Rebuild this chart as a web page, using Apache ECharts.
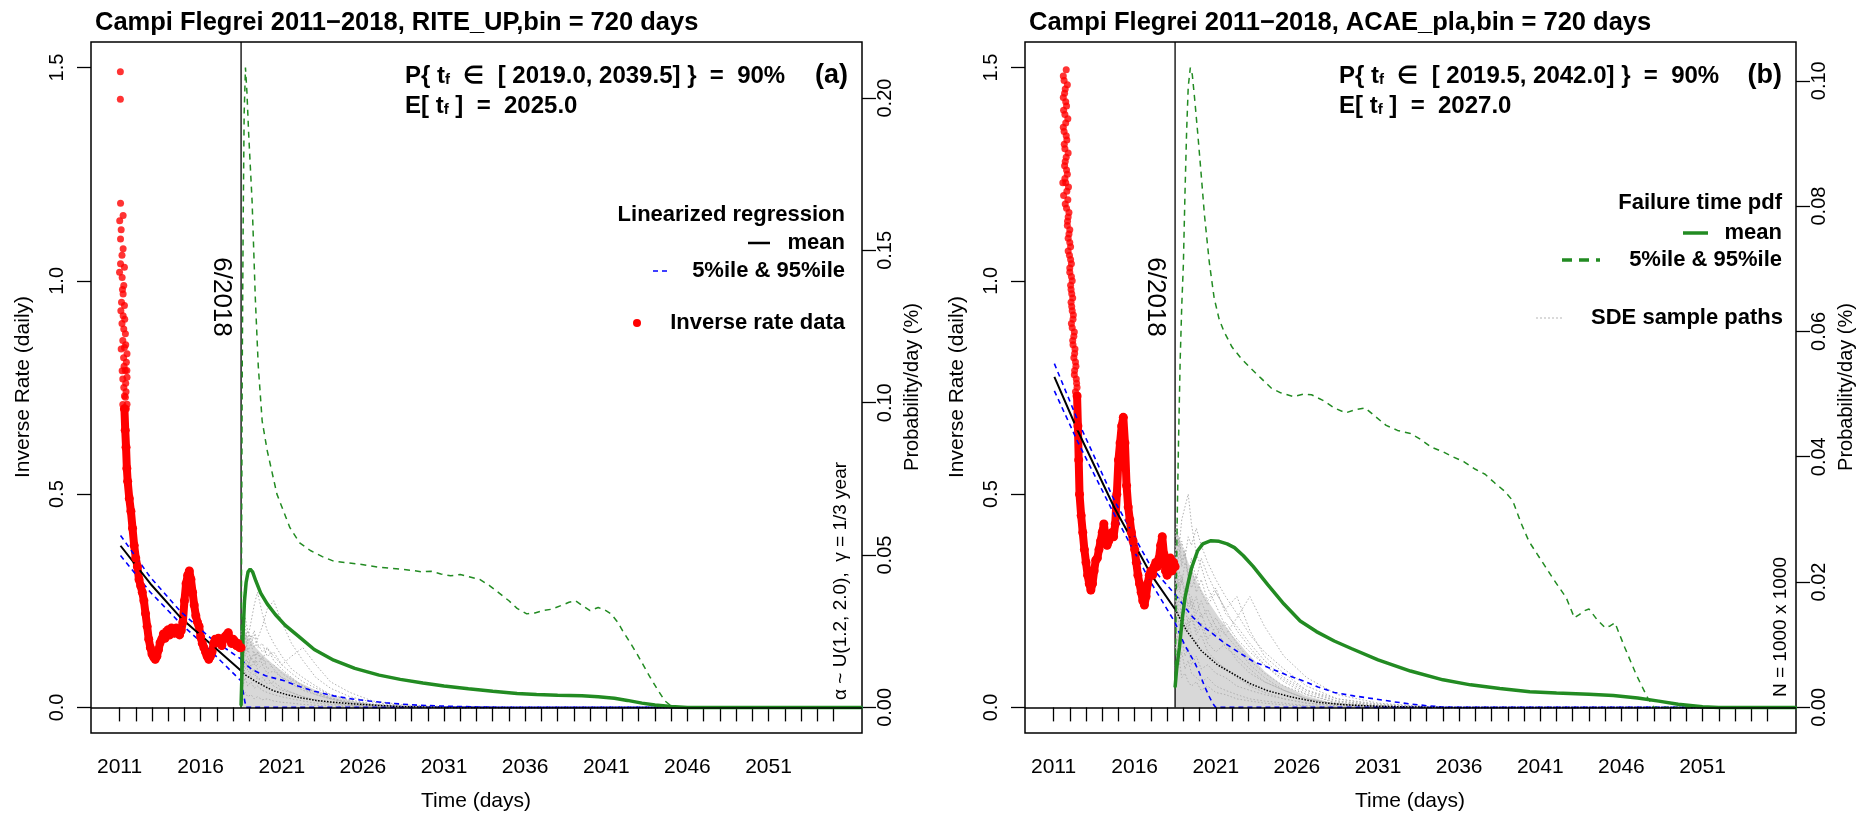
<!DOCTYPE html>
<html><head><meta charset="utf-8">
<script src="https://cdn.jsdelivr.net/npm/echarts@6/dist/echarts.min.js"></script>
<style>html,body{margin:0;padding:0;background:#fff}#c{width:1868px;height:817px}</style>
</head><body><div id="c"></div>
<script>
// ---------------- DATA ----------------
const xTickYears = [2011,2012,2013,2014,2015,2016,2017,2018,2019,2020,2021,2022,2023,2024,2025,2026,2027,2028,2029,2030,2031,2032,2033,2034,2035,2036,2037,2038,2039,2040,2041,2042,2043,2044,2045,2046,2047,2048,2049,2050,2051,2052,2053,2054,2055];
const xLabelYears = [2011,2016,2021,2026,2031,2036,2041,2046,2051];
const leftTicks = [0,0.5,1.0,1.5];
const rightTicksA = [0,0.05,0.10,0.15,0.20];
const rightTicksB = [0,0.02,0.04,0.06,0.08,0.10];
const xLim = [2011, 2055];
const yLim = [0, 1.5];
const pdfMaxA = 0.210;
const pdfMaxB = 0.1021;
const changeYear = 2018.49;

// Panel (a) RITE_UP
const redDotsA = [[2011.05,1.49],[2011.05,1.426],[2011.06,1.182],[2011.22,1.153],[2011.01,1.141],[2011.1,1.12],[2011.06,1.098],[2011.22,1.075],[2011.15,1.06],[2011.06,1.04],[2011.3,1.032],[2011.0,1.02],[2011.16,1.008],[2011.26,0.989],[2011.18,0.98],[2011.22,0.969],[2011.3,0.942],[2011.12,0.95],[2011.08,0.93],[2011.22,0.918],[2011.32,0.91],[2011.15,0.90],[2011.26,0.887],[2011.2,0.86],[2011.36,0.876],[2011.38,0.85],[2011.1,0.84],[2011.3,0.844],[2011.46,0.829],[2011.25,0.82],[2011.42,0.809],[2011.28,0.80],[2011.16,0.789],[2011.45,0.79],[2011.46,0.774],[2011.2,0.77],[2011.38,0.76],[2011.35,0.79],[2011.26,0.75],[2011.4,0.74],[2011.3,0.73],[2011.36,0.727],[2011.46,0.711],[2011.2,0.71],[2011.42,0.70],[2011.3,0.688]];
const redBandA = [[2011.3,0.70],[2011.35,0.65],[2011.4,0.61],[2011.45,0.56],[2011.5,0.53],[2011.6,0.49],[2011.7,0.46],[2011.8,0.42],[2011.9,0.38],[2012.0,0.35],[2012.1,0.33],[2012.2,0.30],[2012.3,0.285],[2012.4,0.27],[2012.5,0.25],[2012.6,0.22],[2012.7,0.19],[2012.8,0.16],[2012.9,0.14],[2013.0,0.125],[2013.1,0.118],[2013.2,0.113],[2013.3,0.12],[2013.4,0.135],[2013.5,0.152],[2013.6,0.16],[2013.7,0.172],[2013.8,0.162],[2013.9,0.178],[2014.0,0.182],[2014.1,0.17],[2014.2,0.186],[2014.3,0.18],[2014.4,0.174],[2014.5,0.186],[2014.6,0.175],[2014.7,0.17],[2014.8,0.18],[2014.9,0.20],[2015.0,0.25],[2015.1,0.29],[2015.2,0.31],[2015.3,0.32],[2015.4,0.30],[2015.5,0.27],[2015.6,0.24],[2015.7,0.215],[2015.8,0.20],[2015.9,0.19],[2016.0,0.165],[2016.1,0.15],[2016.2,0.14],[2016.3,0.13],[2016.4,0.12],[2016.5,0.113],[2016.6,0.12],[2016.7,0.13],[2016.8,0.15],[2016.9,0.16],[2017.0,0.155],[2017.1,0.162],[2017.2,0.15],[2017.3,0.145],[2017.4,0.16],[2017.5,0.166],[2017.6,0.17],[2017.7,0.175],[2017.8,0.16],[2017.9,0.15],[2018.0,0.16],[2018.1,0.155],[2018.2,0.145],[2018.3,0.15],[2018.4,0.14],[2018.49,0.14]];
const regPreMeanA = [[2011.06,0.379],[2012.9,0.29],[2014.75,0.211],[2016.6,0.149],[2018.49,0.086]];
const regPreUpA = [[2011.06,0.403],[2012.9,0.305],[2014.75,0.225],[2016.6,0.163],[2018.49,0.113]];
const regPreLoA = [[2011.06,0.356],[2012.9,0.27],[2014.75,0.197],[2016.6,0.133],[2018.49,0.062]];
const regPostMeanA = [[2018.49,0.086],[2018.8,0.075],[2019.3,0.063],[2020.0,0.048],[2020.5,0.039],[2021.3,0.03],[2022.2,0.022],[2023.2,0.016],[2024.2,0.012],[2025.5,0.008],[2026.8,0.005],[2028.3,0.002],[2030,0.0005],[2031,0],[2056.8,0]];
const regPostUpA = [[2018.49,0.113],[2018.8,0.1],[2019.2,0.088],[2020.0,0.074],[2021.1,0.063],[2022.0,0.05],[2023.0,0.038],[2024.2,0.027],[2025.3,0.02],[2026.4,0.015],[2027.4,0.011],[2028.3,0.008],[2029.5,0.005],[2031,0.003],[2033,0.0012],[2035,0],[2056.8,0]];
const regPostLoA = [[2018.49,0.062],[2018.58,0.045],[2018.65,0.03],[2018.73,0.012],[2018.8,0],[2056.8,0]];
const pdfMeanA = [[2018.49,0.0006],[2018.55,0.012],[2018.62,0.025],[2018.7,0.035],[2018.8,0.041],[2018.92,0.0445],[2019.05,0.0454],[2019.2,0.0445],[2019.4,0.0415],[2019.7,0.0375],[2020.1,0.034],[2020.6,0.0305],[2021.2,0.027],[2022.0,0.0235],[2023.0,0.019],[2024.2,0.0155],[2025.5,0.0128],[2027.0,0.0106],[2028.3,0.0092],[2029.7,0.008],[2031.0,0.007],[2032.5,0.0061],[2034.0,0.0053],[2035.5,0.0046],[2036.7,0.0042],[2038.0,0.004],[2039.5,0.0038],[2040.5,0.0035],[2041.5,0.003],[2042.3,0.0023],[2043.2,0.0014],[2044.0,0.0008],[2045.0,0.0003],[2046.0,0],[2056.8,0]];
const pdfUpperA = [[2018.49,0],[2018.52,0.05],[2018.56,0.11],[2018.62,0.16],[2018.68,0.195],[2018.76,0.21],[2018.85,0.202],[2018.96,0.188],[2019.17,0.166],[2019.37,0.134],[2019.55,0.112],[2019.79,0.094],[2020.1,0.0843],[2020.7,0.070],[2021.5,0.059],[2022.1,0.054],[2022.76,0.0515],[2023.5,0.0495],[2024.2,0.048],[2025.0,0.0475],[2025.8,0.047],[2027.0,0.046],[2028.3,0.0454],[2029.0,0.045],[2029.6,0.0445],[2030.2,0.0447],[2030.8,0.0438],[2031.4,0.0432],[2032.0,0.0436],[2032.6,0.0428],[2033.2,0.042],[2033.8,0.040],[2034.4,0.0375],[2035.0,0.035],[2035.5,0.0325],[2036.1,0.0307],[2036.6,0.031],[2037.1,0.0318],[2037.6,0.0322],[2038.2,0.0334],[2038.7,0.0345],[2039.1,0.035],[2039.5,0.0335],[2040.0,0.0318],[2040.5,0.0328],[2040.9,0.032],[2041.3,0.0307],[2041.7,0.028],[2042.0,0.0252],[2042.5,0.021],[2042.9,0.0175],[2043.3,0.0137],[2043.7,0.0099],[2044.2,0.0055],[2044.6,0.0022],[2045.1,0],[2056.8,0]];
const sdeCoreA = [[2018.49,0.17],[2018.7,0.18],[2019.0,0.16],[2019.4,0.14],[2019.9,0.12],[2020.5,0.10],[2021.2,0.08],[2022.0,0.06],[2023.0,0.042],[2024.0,0.028],[2025.5,0.014],[2027.0,0.006],[2029.0,0.002],[2031.0,0]];
const sdeYears = [2018.49,2018.6,2018.75,2018.9,2019.1,2019.3,2019.5,2019.8,2020.1,2020.5,2021.0,2021.6,2022.3,2023.1,2024.0,2025.2,2026.6,2028.5,2031.0,2034.0];
const sdePathsA = [
 [0.14,0.17,0.13,0.16,0.20,0.24,0.27,0.22,0.18,0.15,0.12,0.09,0.07,0.05,0.03,0.018,0.008,0.003,0.001,0],
 [0.10,0.08,0.11,0.09,0.12,0.10,0.13,0.11,0.14,0.12,0.10,0.08,0.06,0.045,0.03,0.015,0.007,0.002,0,0],
 [0.16,0.14,0.17,0.13,0.15,0.12,0.13,0.10,0.11,0.09,0.07,0.06,0.045,0.03,0.02,0.01,0.005,0.002,0,0],
 [0.06,0.05,0.07,0.05,0.06,0.045,0.05,0.04,0.035,0.03,0.025,0.02,0.015,0.01,0.007,0.004,0.002,0,0,0],
 [0.12,0.15,0.12,0.14,0.11,0.13,0.10,0.12,0.09,0.10,0.08,0.065,0.05,0.035,0.022,0.012,0.005,0.002,0,0],
 [0.18,0.16,0.19,0.15,0.17,0.14,0.16,0.19,0.23,0.25,0.20,0.15,0.11,0.07,0.045,0.025,0.012,0.004,0.001,0],
 [0.08,0.10,0.08,0.09,0.07,0.08,0.065,0.07,0.055,0.06,0.045,0.035,0.025,0.018,0.012,0.006,0.003,0.001,0,0],
 [0.13,0.11,0.09,0.11,0.08,0.09,0.07,0.06,0.07,0.05,0.04,0.035,0.025,0.015,0.01,0.005,0.002,0,0,0],
 [0.04,0.03,0.035,0.025,0.03,0.02,0.025,0.018,0.02,0.015,0.012,0.01,0.007,0.005,0.003,0.002,0.001,0,0,0],
 [0.15,0.13,0.16,0.18,0.15,0.17,0.14,0.15,0.12,0.13,0.10,0.12,0.14,0.10,0.06,0.035,0.015,0.006,0.002,0],
 [0.11,0.12,0.10,0.12,0.095,0.11,0.09,0.10,0.08,0.085,0.07,0.055,0.04,0.03,0.02,0.01,0.005,0.002,0,0],
 [0.17,0.19,0.21,0.18,0.16,0.18,0.15,0.13,0.14,0.11,0.09,0.07,0.05,0.035,0.022,0.012,0.006,0.002,0.001,0]
];

// Panel (b) ACAE_pla
const redDotsB = [[2011.78,1.495],[2011.6,1.48],[2011.65,1.47],[2011.85,1.46],[2011.72,1.45],[2011.68,1.44],[2011.6,1.43],[2011.75,1.42],[2011.8,1.41],[2011.62,1.40],[2011.7,1.39],[2011.88,1.38],[2011.75,1.37],[2011.6,1.36],[2011.65,1.35],[2011.78,1.34],[2011.82,1.33],[2011.66,1.32],[2011.7,1.31],[2011.9,1.30],[2011.78,1.29],[2011.72,1.28],[2011.68,1.27],[2011.8,1.26],[2011.85,1.25],[2011.7,1.24],[2011.57,1.23],[2011.75,1.23],[2011.92,1.22],[2011.82,1.21],[2011.62,1.20],[2011.88,1.19],[2011.72,1.18],[2011.8,1.17],[2011.95,1.16],[2011.9,1.15],[2011.86,1.14],[2011.85,1.13],[2012.0,1.12],[2011.95,1.11],[2011.9,1.10],[2012.0,1.09],[2012.05,1.08],[2011.9,1.07],[2011.98,1.06],[2012.05,1.05],[2012.1,1.04],[2012.0,1.03],[2012.0,1.02],[2012.1,1.01],[2012.15,1.00],[2012.05,0.99],[2012.08,0.98],[2012.12,0.97],[2012.18,0.96],[2012.08,0.95],[2012.12,0.94],[2012.15,0.93],[2012.22,0.92],[2012.2,0.91],[2012.1,0.90],[2012.15,0.89],[2012.28,0.88],[2012.25,0.87],[2012.18,0.86],[2012.2,0.85],[2012.32,0.84],[2012.3,0.83],[2012.25,0.82],[2012.35,0.81],[2012.38,0.80],[2012.3,0.79],[2012.28,0.78],[2012.4,0.77],[2012.42,0.76],[2012.45,0.75],[2012.35,0.74],[2012.42,0.73]];
const redBandB = [[2012.45,0.73],[2012.5,0.66],[2012.55,0.58],[2012.6,0.50],[2012.7,0.45],[2012.8,0.41],[2012.9,0.37],[2013.0,0.34],[2013.1,0.31],[2013.2,0.29],[2013.3,0.275],[2013.4,0.29],[2013.5,0.32],[2013.6,0.345],[2013.7,0.35],[2013.8,0.37],[2013.9,0.39],[2014.0,0.41],[2014.1,0.43],[2014.2,0.40],[2014.3,0.38],[2014.4,0.39],[2014.5,0.40],[2014.6,0.41],[2014.7,0.40],[2014.8,0.43],[2014.9,0.50],[2015.0,0.58],[2015.1,0.62],[2015.2,0.66],[2015.3,0.68],[2015.4,0.62],[2015.5,0.52],[2015.6,0.47],[2015.7,0.44],[2015.8,0.41],[2015.9,0.39],[2016.0,0.37],[2016.1,0.34],[2016.2,0.31],[2016.3,0.29],[2016.4,0.27],[2016.5,0.25],[2016.6,0.24],[2016.7,0.26],[2016.8,0.29],[2016.9,0.31],[2017.0,0.32],[2017.1,0.31],[2017.2,0.33],[2017.3,0.34],[2017.4,0.33],[2017.5,0.35],[2017.6,0.38],[2017.7,0.40],[2017.8,0.36],[2017.9,0.32],[2018.0,0.31],[2018.1,0.33],[2018.2,0.35],[2018.3,0.32],[2018.4,0.34],[2018.49,0.33]];
const regPreMeanB = [[2011.05,0.775],[2012.5,0.648],[2014.75,0.468],[2017.0,0.312],[2018.49,0.23]];
const regPreUpB = [[2011.05,0.806],[2012.5,0.672],[2014.75,0.485],[2017.0,0.33],[2018.49,0.265]];
const regPreLoB = [[2011.05,0.742],[2012.5,0.622],[2014.75,0.452],[2017.0,0.293],[2018.49,0.199]];
const regPostMeanB = [[2018.49,0.23],[2019.2,0.18],[2020.1,0.133],[2021.1,0.1],[2022.1,0.078],[2023.1,0.056],[2024.2,0.039],[2025.7,0.024],[2027.3,0.012],[2029,0.006],[2030.8,0.003],[2033,0.001],[2035,0],[2056.8,0]];
const regPostUpB = [[2018.49,0.265],[2019.0,0.24],[2019.5,0.215],[2020.1,0.192],[2020.7,0.176],[2021.5,0.152],[2022.5,0.127],[2023.3,0.108],[2024.2,0.094],[2025.3,0.077],[2026.4,0.062],[2027.3,0.048],[2028.3,0.035],[2029.5,0.027],[2030.8,0.02],[2032,0.013],[2033,0.008],[2034,0.004],[2035,0.001],[2036,0],[2056.8,0]];
const regPostLoB = [[2018.49,0.199],[2018.8,0.17],[2019.1,0.145],[2019.4,0.125],[2019.7,0.105],[2020.0,0.08],[2020.3,0.05],[2020.6,0.025],[2020.8,0.01],[2021.0,0],[2056.8,0]];
const pdfMeanB = [[2018.49,0.0032],[2018.6,0.0065],[2018.76,0.0096],[2018.95,0.0145],[2019.1,0.0175],[2019.27,0.0196],[2019.5,0.0222],[2019.88,0.025],[2020.2,0.0261],[2020.7,0.0266],[2021.2,0.0265],[2021.7,0.0261],[2022.15,0.0255],[2022.7,0.0242],[2023.3,0.0225],[2024.2,0.0196],[2025.2,0.0165],[2026.2,0.0138],[2027.2,0.0121],[2028.3,0.0106],[2029.35,0.0094],[2031.0,0.0076],[2033.0,0.0058],[2035.0,0.0044],[2036.7,0.0036],[2038.5,0.003],[2040.35,0.0025],[2042.0,0.0023],[2044.0,0.0021],[2045.5,0.0019],[2047.0,0.0015],[2048.3,0.001],[2049.5,0.0005],[2051.0,0.0001],[2052,0],[2056.8,0]];
const pdfUpperB = [[2018.49,0.003],[2018.55,0.015],[2018.62,0.03],[2018.7,0.042],[2018.8,0.055],[2018.9,0.064],[2019.0,0.0706],[2019.1,0.082],[2019.2,0.0918],[2019.3,0.099],[2019.43,0.1021],[2019.55,0.101],[2019.7,0.097],[2019.88,0.0918],[2020.1,0.085],[2020.3,0.0786],[2020.6,0.071],[2020.9,0.0653],[2021.2,0.062],[2021.5,0.060],[2022.0,0.0575],[2022.56,0.0557],[2023.2,0.054],[2023.8,0.0525],[2024.4,0.051],[2025.0,0.0502],[2025.8,0.0496],[2026.4,0.050],[2026.9,0.0499],[2027.6,0.049],[2028.3,0.0478],[2029.0,0.047],[2029.6,0.0475],[2030.2,0.0478],[2030.8,0.0465],[2031.5,0.045],[2032.2,0.0442],[2033.0,0.0437],[2033.6,0.0428],[2034.3,0.0415],[2035.0,0.0408],[2035.6,0.0400],[2036.3,0.0392],[2037.0,0.0380],[2037.6,0.0372],[2038.2,0.0358],[2038.8,0.0345],[2039.3,0.033],[2039.8,0.0295],[2040.3,0.0265],[2040.8,0.0245],[2041.3,0.0225],[2041.8,0.0205],[2042.2,0.019],[2042.6,0.0175],[2043.1,0.0143],[2043.4,0.0148],[2043.7,0.0154],[2044.0,0.0157],[2044.5,0.014],[2045.0,0.0127],[2045.3,0.013],[2045.6,0.0135],[2046.2,0.0096],[2046.9,0.0053],[2047.6,0.0016],[2048.0,0],[2056.8,0]];
const sdeCoreB = [[2018.49,0.42],[2018.7,0.40],[2019.0,0.37],[2019.4,0.33],[2019.9,0.29],[2020.5,0.25],[2021.2,0.21],[2022.0,0.17],[2023.0,0.125],[2024.0,0.085],[2025.0,0.055],[2026.5,0.028],[2028.0,0.012],[2030.0,0.004],[2032.0,0]];
const sdePathsB = [
 [0.35,0.41,0.38,0.44,0.47,0.50,0.43,0.36,0.33,0.28,0.24,0.19,0.15,0.11,0.08,0.05,0.03,0.012,0.004,0],
 [0.30,0.27,0.32,0.29,0.34,0.31,0.35,0.30,0.35,0.31,0.27,0.23,0.26,0.18,0.12,0.08,0.04,0.015,0.005,0],
 [0.25,0.22,0.26,0.20,0.24,0.19,0.22,0.18,0.20,0.16,0.19,0.14,0.12,0.09,0.06,0.04,0.02,0.008,0.002,0],
 [0.33,0.30,0.28,0.31,0.27,0.24,0.26,0.22,0.25,0.21,0.17,0.20,0.16,0.13,0.10,0.06,0.03,0.01,0.003,0],
 [0.20,0.17,0.14,0.16,0.12,0.14,0.10,0.12,0.09,0.10,0.08,0.07,0.05,0.04,0.03,0.02,0.01,0.004,0.001,0],
 [0.38,0.35,0.40,0.34,0.37,0.30,0.33,0.27,0.30,0.25,0.28,0.22,0.19,0.15,0.11,0.07,0.04,0.02,0.006,0.001],
 [0.28,0.32,0.27,0.30,0.26,0.28,0.23,0.26,0.21,0.23,0.19,0.17,0.14,0.10,0.07,0.04,0.02,0.008,0.002,0],
 [0.15,0.12,0.10,0.13,0.09,0.11,0.08,0.07,0.06,0.07,0.05,0.04,0.03,0.02,0.015,0.01,0.004,0.001,0,0],
 [0.36,0.33,0.36,0.39,0.35,0.40,0.38,0.42,0.38,0.34,0.30,0.26,0.22,0.17,0.13,0.09,0.05,0.02,0.008,0.002],
 [0.22,0.25,0.21,0.23,0.20,0.18,0.21,0.17,0.19,0.15,0.13,0.15,0.11,0.08,0.06,0.04,0.02,0.007,0.002,0],
 [0.31,0.28,0.30,0.25,0.28,0.23,0.25,0.20,0.22,0.18,0.21,0.17,0.21,0.26,0.19,0.12,0.07,0.03,0.01,0.002],
 [0.10,0.08,0.11,0.07,0.08,0.06,0.05,0.06,0.04,0.05,0.035,0.03,0.02,0.015,0.01,0.006,0.003,0.001,0,0],
 [0.40,0.43,0.37,0.33,0.36,0.31,0.28,0.31,0.27,0.24,0.27,0.23,0.18,0.14,0.10,0.065,0.035,0.015,0.005,0],
 [0.26,0.23,0.19,0.22,0.18,0.21,0.17,0.15,0.17,0.13,0.11,0.09,0.07,0.05,0.035,0.02,0.01,0.004,0.001,0]
];

const titles = ['Campi Flegrei 2011\u22122018, RITE_UP,bin = 720 days', 'Campi Flegrei 2011\u22122018, ACAE_pla,bin = 720 days'];
const intervals = [['2019.0','2039.5'],['2019.5','2042.0']];
const expected = ['2025.0','2027.0'];
const panelTags = ['(a)','(b)'];

// ---------------- CHART ----------------
const FONT = '"Liberation Sans", Arial, Helvetica, sans-serif';
const GREEN = '#228B22';
const PW = 934;
const G = {left:91, top:42, width:771, height:691};
const ext = (lim) => { const d = (lim[1]-lim[0])*0.04; return [lim[0]-d, lim[1]+d]; };
const xr = ext(xLim), yr = ext(yLim);
const pdfMax = [pdfMaxA, pdfMaxB];

const grids = [], xAxes = [], yAxes = [], series = [], graphics = [];
const panels = [
  {redDots:redDotsA, redBand:redBandA, preM:regPreMeanA, preU:regPreUpA, preL:regPreLoA, postM:regPostMeanA, postU:regPostUpA, postL:regPostLoA, pdfM:pdfMeanA, pdfU:pdfUpperA, core:sdeCoreA, paths:sdePathsA, rticks:rightTicksA},
  {redDots:redDotsB, redBand:redBandB, preM:regPreMeanB, preU:regPreUpB, preL:regPreLoB, postM:regPostMeanB, postU:regPostUpB, postL:regPostLoB, pdfM:pdfMeanB, pdfU:pdfUpperB, core:sdeCoreB, paths:sdePathsB, rticks:rightTicksB}
];

const tickStyle = {color:'#000', width:1.3};
const lblStyle = {color:'#000', fontFamily:FONT};

panels.forEach((d, i) => {
  const ox = i*PW;
  grids.push({left:G.left+ox, top:G.top, width:G.width, height:G.height, show:true, borderColor:'#000', borderWidth:1.5, backgroundColor:'transparent', containLabel:false, outerBoundsMode:'none'});
  xAxes.push({type:'value', gridIndex:i, min:xr[0], max:xr[1], axisLine:{show:false}, splitLine:{show:false},
    axisTick:{show:true, inside:false, length:14, customValues:xTickYears, lineStyle:tickStyle},
    axisLabel:{show:true, customValues:xLabelYears, margin:24, fontSize:21, ...lblStyle, formatter:v=>String(Math.round(v))}});
  const pr = ext([0, pdfMax[i]]);
  yAxes.push({type:'value', gridIndex:i, position:'left', min:yr[0], max:yr[1], axisLine:{show:false}, splitLine:{show:false},
    axisTick:{show:true, length:14, customValues:leftTicks, lineStyle:tickStyle},
    axisLabel:{show:true, customValues:leftTicks, rotate:90, margin:24, fontSize:20, ...lblStyle, formatter:v=>v.toFixed(1)}});
  yAxes.push({type:'value', gridIndex:i, position:'right', min:pr[0], max:pr[1], axisLine:{show:false}, splitLine:{show:false}, alignTicks:false,
    axisTick:{show:true, length:14, customValues:d.rticks, lineStyle:tickStyle},
    axisLabel:{show:true, customValues:d.rticks, rotate:90, margin:13, fontSize:20, ...lblStyle, formatter:v=>v.toFixed(2)}});
  const L = 2*i, R = 2*i+1;
  const base = {xAxisIndex:i, animation:false, silent:true, showSymbol:false};
  series.push({...base, type:'line', yAxisIndex:L, data:[[changeYear,0],[changeYear,yr[1]]], lineStyle:{color:'#000', width:1.3},
    markLine:{silent:true, symbol:'none', animation:false, label:{show:false}, lineStyle:{color:'#000', width:1.6, type:'solid'}, data:[{yAxis:0}]}});
  series.push({...base, type:'line', yAxisIndex:L, data:d.core, lineStyle:{opacity:0, width:0}, areaStyle:{color:'#d4d4d4', opacity:0.9}});
  d.paths.forEach(p => series.push({...base, type:'line', yAxisIndex:L, data:sdeYears.map((y,k)=>[y,p[k]]), lineStyle:{color:'#b0b0b0', width:1, type:[1.5,2]}}));
  series.push({...base, type:'line', yAxisIndex:L, data:d.redBand, showSymbol:true, symbol:'circle', symbolSize:9, itemStyle:{color:'#ff0000'}, lineStyle:{color:'#ff0000', width:8, cap:'round', join:'round'}});
  series.push({...base, type:'scatter', yAxisIndex:L, data:d.redDots, symbolSize:7, itemStyle:{color:'#ff0000'}});
  series.push({...base, type:'line', yAxisIndex:L, data:d.preU, lineStyle:{color:'#0000ff', width:1.6, type:[5,4]}});
  series.push({...base, type:'line', yAxisIndex:L, data:d.preL, lineStyle:{color:'#0000ff', width:1.6, type:[5,4]}});
  series.push({...base, type:'line', yAxisIndex:L, data:d.preM, lineStyle:{color:'#000', width:2}});
  series.push({...base, type:'line', yAxisIndex:L, data:d.postU, lineStyle:{color:'#0000ff', width:1.6, type:[5,4]}});
  series.push({...base, type:'line', yAxisIndex:L, data:d.postL, lineStyle:{color:'#0000ff', width:1.6, type:[5,4]}});
  series.push({...base, type:'line', yAxisIndex:L, data:d.postM, lineStyle:{color:'#000', width:1.5, type:[1.5,1.5]}});
  series.push({...base, type:'line', yAxisIndex:R, data:d.pdfU, lineStyle:{color:GREEN, width:1.5, type:[6,5]}});
  series.push({...base, type:'line', yAxisIndex:R, data:d.pdfM, lineStyle:{color:GREEN, width:3.5}});

  graphics.push({type:'text', x:95+ox, y:23, z:100, style:{text:titles[i], font:'bold 25.5px '+FONT, fill:'#000', verticalAlign:'middle'}});
  const rich = {s:{font:'bold 15px '+FONT, fill:'#000', padding:[8,0,0,0]}};
  graphics.push({type:'text', x:405+ox, y:76, z:100, style:{text:'P{ t{s|f}  \u2208  [ '+intervals[i][0]+', '+intervals[i][1]+'] }  =  90%', font:'bold 24px '+FONT, fill:'#000', verticalAlign:'middle', rich:rich}});
  graphics.push({type:'text', x:405+ox, y:106, z:100, style:{text:'E[ t{s|f} ]  =  '+expected[i], font:'bold 24px '+FONT, fill:'#000', verticalAlign:'middle', rich:rich}});
  graphics.push({type:'text', x:848+ox, y:76, z:100, style:{text:panelTags[i], font:'bold 27px '+FONT, fill:'#000', align:'right', verticalAlign:'middle'}});
  graphics.push({type:'text', x:221+ox, y:297, rotation:-Math.PI/2, z:100, style:{text:'6/2018', font:'26px '+FONT, fill:'#000', align:'center', verticalAlign:'middle'}});
  graphics.push({type:'text', x:23+ox, y:387, rotation:Math.PI/2, z:100, style:{text:'Inverse Rate (daily)', font:'21px '+FONT, fill:'#000', align:'center', verticalAlign:'middle'}});
  graphics.push({type:'text', x:912+ox, y:387, rotation:Math.PI/2, z:100, style:{text:'Probability/day (%)', font:'20px '+FONT, fill:'#000', align:'center', verticalAlign:'middle'}});
  graphics.push({type:'text', x:476+ox, y:801, z:100, style:{text:'Time (days)', font:'21px '+FONT, fill:'#000', align:'center', verticalAlign:'middle'}});
});

graphics.push({type:'text', x:841, y:700, rotation:Math.PI/2, z:100, style:{text:'\u03b1 ~ U(1.2, 2.0),  \u03b3 = 1/3 year', font:'19px '+FONT, fill:'#000', align:'left', verticalAlign:'middle'}});
graphics.push({type:'text', x:1781, y:697, rotation:Math.PI/2, z:100, style:{text:'N = 1000 x 1000', font:'19px '+FONT, fill:'#000', align:'left', verticalAlign:'middle'}});

const LF = 'bold 22px '+FONT;
const lt = (x,y,text) => graphics.push({type:'text', x:x, y:y, z:100, style:{text:text, font:LF, fill:'#000', align:'right', verticalAlign:'middle'}});
lt(845,215,'Linearized regression');
graphics.push({type:'line', z:100, shape:{x1:748,y1:243,x2:770,y2:243}, style:{stroke:'#000', lineWidth:2.5}});
lt(845,243,'mean');
graphics.push({type:'line', z:100, shape:{x1:653,y1:271,x2:671,y2:271}, style:{stroke:'#0000ff', lineWidth:1.5, lineDash:[5,4]}});
lt(845,271,'5%ile & 95%ile');
graphics.push({type:'circle', z:100, shape:{cx:637,cy:323,r:4}, style:{fill:'#ff0000'}});
lt(845,323,'Inverse rate data');
lt(1782,203,'Failure time pdf');
graphics.push({type:'line', z:100, shape:{x1:1683,y1:233,x2:1708,y2:233}, style:{stroke:GREEN, lineWidth:3.5}});
lt(1782,233,'mean');
graphics.push({type:'line', z:100, shape:{x1:1562,y1:260,x2:1600,y2:260}, style:{stroke:GREEN, lineWidth:3.5, lineDash:[10,7]}});
lt(1782,260,'5%ile & 95%ile');
graphics.push({type:'line', z:100, shape:{x1:1536,y1:318,x2:1564,y2:318}, style:{stroke:'#b5b5b5', lineWidth:1.2, lineDash:[2,2]}});
lt(1783,318,'SDE sample paths');

const chart = echarts.init(document.getElementById('c'), null, {renderer:'canvas'});
chart.setOption({
  backgroundColor:'#fff', animation:false,
  textStyle:{fontFamily:FONT},
  grid:grids, xAxis:xAxes, yAxis:yAxes, series:series, graphic:graphics
});
</script></body></html>
